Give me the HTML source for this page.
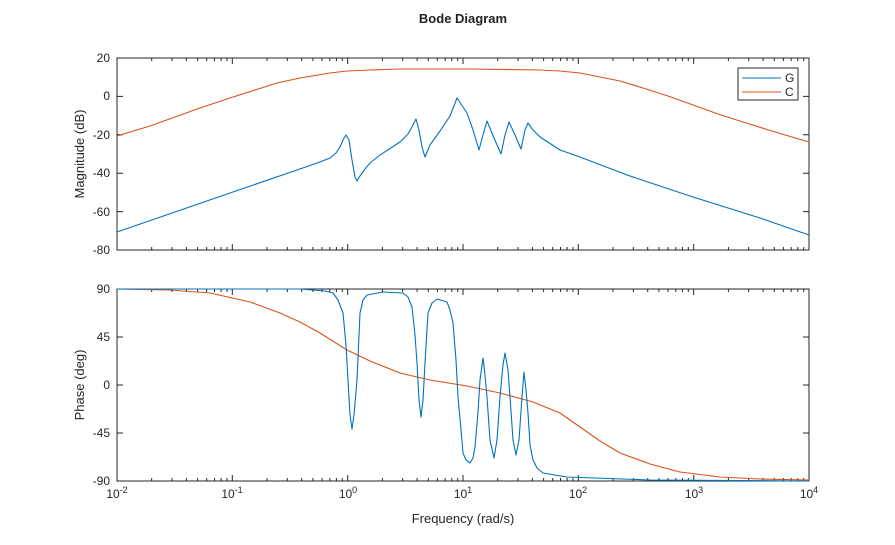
<!DOCTYPE html>
<html><head><meta charset="utf-8"><style>body{margin:0;background:#fff}</style></head><body>
<svg width="895" height="540" xmlns="http://www.w3.org/2000/svg" xmlns:xlink="http://www.w3.org/1999/xlink" font-family="Liberation Sans, sans-serif">
<defs>
<path id="t" d="M0 58v3M0 250v-3M0 289v3M0 481v-3" stroke="#262626" stroke-width="1"/>
<path id="T" d="M0 58v6M0 250v-6M0 289v6M0 481v-6" stroke="#262626" stroke-width="1"/>
</defs>
<rect width="895" height="540" fill="#fff"/>
<text x="463" y="23" font-size="13" font-weight="bold" text-anchor="middle" fill="#222">Bode Diagram</text>
<rect x="117" y="58" width="692" height="192" fill="none" stroke="#262626" stroke-width="1"/>
<rect x="117" y="289" width="692" height="192" fill="none" stroke="#262626" stroke-width="1"/>
<g>
<use xlink:href="#T" x="232.3"/><use xlink:href="#T" x="347.7"/><use xlink:href="#T" x="463"/><use xlink:href="#T" x="578.3"/><use xlink:href="#T" x="693.7"/>
<use xlink:href="#t" x="151.7"/><use xlink:href="#t" x="172"/><use xlink:href="#t" x="186.4"/><use xlink:href="#t" x="197.6"/><use xlink:href="#t" x="206.7"/><use xlink:href="#t" x="214.5"/><use xlink:href="#t" x="221.1"/><use xlink:href="#t" x="227"/>
<use xlink:href="#t" x="267"/><use xlink:href="#t" x="287.3"/><use xlink:href="#t" x="301.7"/><use xlink:href="#t" x="312.9"/><use xlink:href="#t" x="322"/><use xlink:href="#t" x="329.8"/><use xlink:href="#t" x="336.4"/><use xlink:href="#t" x="342.3"/>
<use xlink:href="#t" x="382.4"/><use xlink:href="#t" x="402.7"/><use xlink:href="#t" x="417.1"/><use xlink:href="#t" x="428.3"/><use xlink:href="#t" x="437.4"/><use xlink:href="#t" x="445.2"/><use xlink:href="#t" x="451.8"/><use xlink:href="#t" x="457.7"/>
<use xlink:href="#t" x="497.7"/><use xlink:href="#t" x="518"/><use xlink:href="#t" x="532.4"/><use xlink:href="#t" x="543.6"/><use xlink:href="#t" x="552.7"/><use xlink:href="#t" x="560.5"/><use xlink:href="#t" x="567.1"/><use xlink:href="#t" x="573"/>
<use xlink:href="#t" x="613"/><use xlink:href="#t" x="633.3"/><use xlink:href="#t" x="647.7"/><use xlink:href="#t" x="658.9"/><use xlink:href="#t" x="668"/><use xlink:href="#t" x="675.8"/><use xlink:href="#t" x="682.4"/><use xlink:href="#t" x="688.3"/>
<use xlink:href="#t" x="728.4"/><use xlink:href="#t" x="748.7"/><use xlink:href="#t" x="763.1"/><use xlink:href="#t" x="774.3"/><use xlink:href="#t" x="783.4"/><use xlink:href="#t" x="791.2"/><use xlink:href="#t" x="797.8"/><use xlink:href="#t" x="803.7"/>
</g>
<path stroke="#262626" stroke-width="1" d="M117 96.4h6M117 134.8h6M117 173.2h6M117 211.6h6M809 96.4h-6M809 134.8h-6M809 173.2h-6M809 211.6h-6M117 337h6M117 385h6M117 433h6M809 337h-6M809 385h-6M809 433h-6"/>
<g font-size="12" fill="#262626" text-anchor="end">
<text x="110" y="62">20</text><text x="110" y="100">0</text><text x="110" y="139">-20</text><text x="110" y="177">-40</text><text x="110" y="216">-60</text><text x="110" y="254">-80</text>
<text x="110" y="293">90</text><text x="110" y="341">45</text><text x="110" y="389">0</text><text x="110" y="437">-45</text><text x="110" y="485">-90</text>
</g>
<g font-size="12" fill="#262626" text-anchor="middle">
<text x="117" y="498">10<tspan dy="-5" font-size="9">-2</tspan></text>
<text x="232" y="498">10<tspan dy="-5" font-size="9">-1</tspan></text>
<text x="348" y="498">10<tspan dy="-5" font-size="9">0</tspan></text>
<text x="463" y="498">10<tspan dy="-5" font-size="9">1</tspan></text>
<text x="578" y="498">10<tspan dy="-5" font-size="9">2</tspan></text>
<text x="694" y="498">10<tspan dy="-5" font-size="9">3</tspan></text>
<text x="809" y="498">10<tspan dy="-5" font-size="9">4</tspan></text>
</g>
<text x="463" y="523" font-size="13" text-anchor="middle" fill="#262626">Frequency (rad/s)</text>
<text transform="translate(84,154) rotate(-90)" font-size="13" text-anchor="middle" fill="#262626">Magnitude (dB)</text>
<text transform="translate(84,385) rotate(-90)" font-size="13" text-anchor="middle" fill="#262626">Phase (deg)</text>
<g fill="none" stroke-width="1.1" stroke-linejoin="round">
<polyline stroke="#D95319" points="117,136 150,126 175,117 200,108 230,98 255,90 277,83 300,78 330,73 347,71 370,70 400,69 470,69 540,70 560,71 580,73 600,77 620,81 643,88 668,96 693,105 718,114 743,122 775,132 809,142"/>
<polyline stroke="#0072BD" points="117,232 230,193 297,170 320,162 330,158 336,153 340,147 343,140 346,135 349,140 352,160 355,177 357,181 360,176 365,169 370,163 380,155 400,142 408,134 413,125 416,119 419,130 422,147 425,157 430,145 440,131 450,116 454,106 457,98 461,104 467,113 473,130 479,150 483,135 487,121 494,138 501,154 505,135 509,122 515,135 521,149 525,130 528,123 533,130 540,137 560,150 580,157 627,175 693,197 760,218 809,235"/>
<polyline stroke="#D95319" points="117,289 170,290 210,293 250,302 280,313 300,322 320,333 347,350 370,361 400,373 430,380 467,386 500,393 533,402 560,413 580,427 600,441 620,453 650,464 680,472 720,477 760,479 809,480"/>
<polyline stroke="#0072BD" points="117,289 300,289 325,291 333,293 338,300 343,313 346,345 348,380 350,415 352,429 354,415 357,380 360,313 363,300 367,295 383,292 403,293 408,297 412,307 415,335 417,363 419,400 421,417 423,400 425,363 428,313 432,303 437,299 447,302 450,310 453,323 456,360 458,397 461,430 463,453 466,460 470,463 473,458 475,447 478,412 480,380 483,358 485,375 487,397 490,440 494,458 497,440 500,397 503,365 505,353 508,370 510,397 513,440 516,455 519,440 522,397 524,372 526,390 528,413 530,445 533,460 537,468 543,473 567,477 650,480 809,481"/>
</g>
<rect x="738" y="68" width="60" height="32" fill="#fff" stroke="#262626" stroke-width="1"/>
<line x1="742" y1="78" x2="781" y2="78" stroke="#0072BD" stroke-width="1.1"/>
<line x1="742" y1="92" x2="781" y2="92" stroke="#D95319" stroke-width="1.1"/>
<text x="785" y="82" font-size="12" fill="#262626">G</text>
<text x="785" y="96" font-size="12" fill="#262626">C</text>
</svg>
</body></html>
